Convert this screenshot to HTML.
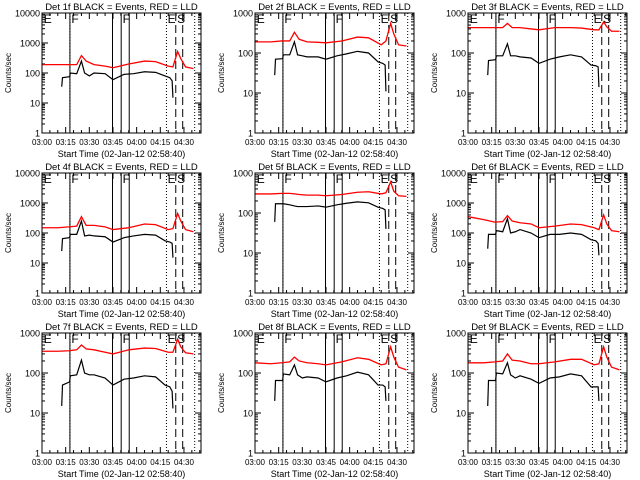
<!DOCTYPE html>
<html><head><meta charset="utf-8"><style>
html,body{margin:0;padding:0;background:#fff;}
svg{display:block;font-family:"Liberation Sans",sans-serif;}
</style></head><body>
<svg id="c" width="640" height="480" viewBox="0 0 640 480"></svg>
<script>
// shared time grids (minutes after 03:00)
const blackTimes=[12.5,13,17.5,18,22,25,27,30,33,40,45,52,58,65,72,78,81,82.5,83];
const redTimes=[0,10,17,22,25,28,33,40,45,55,65,72,80,83,86,88,91,96];
const xTickLabels=["03:00","03:15","03:30","03:45","04:00","04:15","04:30"];
const detNames=["1f","2f","3f","4f","5f","6f","7f","8f","9f"];
const topDecade=[4,3,3,4,3,4,3,3,3];
const black1=[35,70,75,100,95,250,100,80,100,95,60,90,95,110,105,80,70,55,15];
const red1=[190,190,190,190,380,250,190,170,150,200,250,240,170,160,520,300,160,140];
const black2=[28,70,72,90,90,190,90,85,80,80,70,85,95,110,100,60,55,50,11];
const red2=[190,190,200,200,330,220,190,185,180,200,250,240,160,200,550,300,160,150];
const black3=[28,65,68,85,85,170,85,85,80,75,55,70,80,90,80,50,48,45,14];
const red3=[430,430,430,430,550,430,430,400,380,430,430,420,380,380,600,450,350,350];
const black4=[25,65,70,90,90,250,80,85,80,75,50,70,80,90,85,55,50,45,15];
const red4=[150,150,160,170,350,180,180,160,130,150,200,190,130,140,450,250,130,110];
const black5=[60,170,170,170,160,150,145,145,145,150,140,160,175,190,180,140,130,120,40];
const red5=[300,300,310,310,300,290,280,280,270,290,330,340,300,320,600,350,270,260];
const black6=[30,90,90,120,110,300,100,110,130,100,70,90,90,100,90,60,55,45,18];
const red6=[350,280,230,240,380,250,220,200,150,170,200,190,150,130,400,200,120,110];
const black7=[15,50,60,85,90,210,100,90,90,75,50,70,75,85,80,50,45,35,13];
const red7=[350,350,360,380,500,400,380,330,300,380,420,410,330,330,700,450,320,300];
const black8=[20,65,65,95,90,160,90,75,80,75,60,75,85,105,90,50,50,45,20];
const red8=[180,170,180,190,250,200,180,170,160,190,240,220,160,170,450,250,140,120];
const black9=[15,65,65,100,95,180,90,75,85,70,55,75,80,95,85,45,45,45,20];
const red9=[180,180,190,200,300,210,200,170,170,190,220,220,160,170,450,250,140,120];
const blacks=[black1,black2,black3,black4,black5,black6,black7,black8,black9];
const reds=[red1,red2,red3,red4,red5,red6,red7,red8,red9];
const solidLines=[17.7,44.7,50.2,55.3];
const dottedLines=[17.7,78.9,96.8];
const dashedLines=[84.8,89.2];
const markers=[["E",0.5],["F",18],["F",50.5],["E",79],["S",85]];

const svg=document.getElementById('c');
const NS="http://www.w3.org/2000/svg";
function mk(tag,attrs,parent){const e=document.createElementNS(NS,tag);for(const k in attrs)e.setAttribute(k,attrs[k]);(parent||svg).appendChild(e);return e;}
const colX=[0,213,426], rowY=[13,173,333];
const W=159,H=120,XMAX=100.8;
for(let p=0;p<9;p++){
  const r=Math.floor(p/3),c=p%3;
  const L=colX[c]+42,T=rowY[r],B=T+H,R=L+W;
  const dec=topDecade[p];
  const g=mk('g',{});
  
  
  const xs=m=>L+m/XMAX*W;
  const ys=v=>B-Math.log10(Math.max(v,1))/dec*H;
  const t=mk('text',{x:(L+R)/2,y:T-3,'font-size':9.5,'text-anchor':'middle'},g);
  t.textContent='Det '+detNames[p]+' BLACK = Events, RED = LLD';
  
  
  const yl=mk('text',{x:0,y:0,'font-size':8,'text-anchor':'middle',transform:`translate(${colX[c]+11},${(T+B)/2}) rotate(-90)`},g);
  yl.textContent='Counts/sec';
  
  
  const xl=mk('text',{x:(L+R)/2,y:B+24,'font-size':9,'text-anchor':'middle'},g);
  xl.textContent='Start Time (02-Jan-12 02:58:40)';
  
  
  for(let d=0;d<=dec;d++){
    const y=ys(Math.pow(10,d));
    mk('line',{x1:L,x2:L+6,y1:y,y2:y,stroke:'#000'},g);
    mk('line',{x1:R,x2:R-6,y1:y,y2:y,stroke:'#000'},g);
    const tl=mk('text',{x:L-2,y:y+3.5,'font-size':9,'text-anchor':'end'},g);
    tl.textContent=String(Math.pow(10,d));
    
    
    if(d<dec)for(let k=2;k<10;k++){const yy=ys(k*Math.pow(10,d));
      mk('line',{x1:L,x2:L+3,y1:yy,y2:yy,stroke:'#000'},g);
      mk('line',{x1:R,x2:R-3,y1:yy,y2:yy,stroke:'#000'},g);}
  }
  for(let m=0;m<=XMAX;m+=5){const x=xs(m),len=(m%15===0)?6:3;
    mk('line',{x1:x,x2:x,y1:B,y2:B-len,stroke:'#000'},g);
    mk('line',{x1:x,x2:x,y1:T,y2:T+len,stroke:'#000'},g);}
  xTickLabels.forEach((s,i)=>{const tl=mk('text',{x:xs(i*15),y:B+12,'font-size':8,'text-anchor':'middle'},g);
    tl.textContent=s;
    
    });
  solidLines.forEach(m=>mk('line',{x1:xs(m),x2:xs(m),y1:T,y2:B,stroke:'#000'},g));
  dottedLines.forEach(m=>mk('line',{x1:xs(m),x2:xs(m),y1:T,y2:B,stroke:'#000','stroke-dasharray':'1,2'},g));
  dashedLines.forEach(m=>mk('line',{x1:xs(m),x2:xs(m),y1:T,y2:B,stroke:'#000','stroke-dasharray':'8,4'},g));
  markers.forEach(([s,m])=>{const tx=mk('text',{x:xs(m)+1,y:T+10,'font-size':12},g);tx.textContent=s;
    
    });
  const rp=mk('polyline',{points:redTimes.map((m,i)=>xs(m)+','+ys(reds[p][i])).join(' '),fill:'none',stroke:'#ff0000','stroke-width':1.3},g);
  
  
  const bp=mk('polyline',{points:blackTimes.map((m,i)=>xs(m)+','+ys(blacks[p][i])).join(' '),fill:'none',stroke:'#000','stroke-width':1.2},g);
  
  
  const fr=mk('rect',{x:L,y:T,width:W,height:H,fill:'none',stroke:'#000'},g);
  
  
}
</script>
</body></html>
